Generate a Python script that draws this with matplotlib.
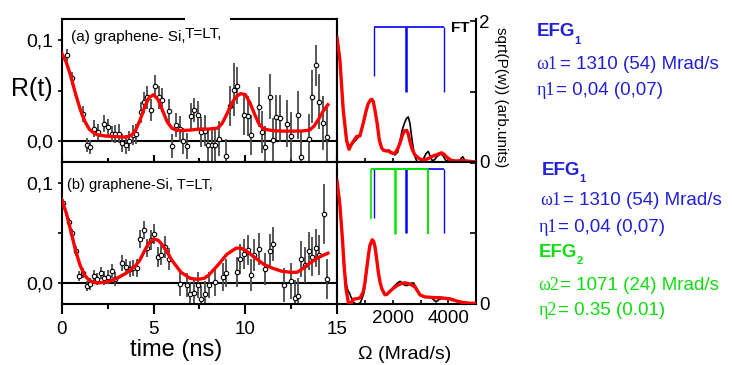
import matplotlib
matplotlib.use('Agg')
import matplotlib.pyplot as plt
from matplotlib.patches import Rectangle

plt.rcParams['font.family'] = ['Liberation Sans', 'DejaVu Sans']

# ---- (a) time spectrum: data points, errors and fit
t_a = [0.27, 0.58, 1.16, 1.39, 1.54, 1.77, 1.96, 2.32, 2.5, 2.72, 2.9, 3.11, 3.3, 3.48,
       3.66, 3.89, 4.07, 4.31, 4.49, 4.67, 4.89, 5.07, 5.29, 5.47, 5.85, 6.03, 6.25, 6.43,
       6.61, 6.83, 7.03, 7.21, 7.41, 7.61, 7.79, 7.97, 8.19, 8.37, 8.55, 8.97, 9.17, 9.37,
       9.55, 9.95, 10.14, 10.33, 10.72, 10.92, 11.08, 11.32, 11.5, 11.68, 11.9, 12.28, 12.5,
       12.86, 13.04, 13.46, 13.64, 13.86, 14.04, 14.24, 14.44]
r_a = [0.085, 0.062, 0.027, -0.004, -0.0056, 0.0125, 0.0092, 0.0175, 0.0142, 0.0069, 0.0069,
       0.0076, -0.0017, -0.0033, 0.0, 0.006, 0.0069, 0.0284, 0.0383, 0.0432, 0.0307, 0.0545,
       0.0432, 0.0406, 0.030, -0.0046, 0.0158, 0.0119, 0.0, -0.0046, 0.0248, 0.0307, 0.0257,
       0.009, 0.0105, -0.0035, -0.0035, -0.004, 0.0025, -0.0145, 0.035, 0.051, 0.055, 0.026,
       0.025, 0.006, 0.034, 0.009, -0.0055, 0.044, 0.0013, 0.0235, 0.0225, 0.0175, 0.005,
       0.026, -0.016, 0.0023, 0.044, 0.075, 0.039, 0.018, 0.0045]
e_a = [0.006, 0.0065, 0.008, 0.007, 0.007, 0.008, 0.008, 0.0087, 0.008, 0.008, 0.009,
       0.009, 0.009, 0.009, 0.01, 0.01, 0.01, 0.01, 0.01, 0.011, 0.011, 0.011, 0.011, 0.012,
       0.012, 0.012, 0.012, 0.013, 0.013, 0.013, 0.013, 0.012, 0.014, 0.015, 0.015, 0.016,
       0.016, 0.016, 0.017, 0.017, 0.02, 0.026, 0.018, 0.02, 0.02, 0.02, 0.02, 0.021, 0.021,
       0.022, 0.022, 0.022, 0.023, 0.023, 0.024, 0.024, 0.025, 0.025, 0.026, 0.02, 0.027,
       0.027, 0.028]
fit_t_a = [0, 0.25, 0.5, 0.75, 1.0, 1.25, 1.5, 1.75, 2.0, 2.5, 3.0, 3.5, 3.8, 4.0, 4.25, 4.5,
           4.75, 5.0, 5.25, 5.5, 5.75, 6.0, 6.25, 6.5, 7.0, 7.5, 8.0, 8.5, 8.75, 9.0, 9.25,
           9.5, 9.75, 10.0, 10.25, 10.5, 10.75, 11.0, 11.5, 12.0, 12.5, 13.0, 13.5, 13.75,
           14.0, 14.25, 14.5]
fit_r_a = [0.087, 0.078, 0.064, 0.047, 0.032, 0.020, 0.012, 0.008, 0.006, 0.005, 0.0045,
           0.004, 0.006, 0.010, 0.020, 0.033, 0.043, 0.046, 0.041, 0.030, 0.019, 0.013, 0.011,
           0.0105, 0.011, 0.012, 0.012, 0.013, 0.018, 0.027, 0.037, 0.044, 0.047, 0.046,
           0.038, 0.027, 0.017, 0.012, 0.0105, 0.010, 0.010, 0.010, 0.011, 0.015, 0.022,
           0.030, 0.036]

# ---- (b) time spectrum
t_b = [0.09, 0.40, 0.58, 0.78, 0.96, 1.16, 1.36, 1.54, 1.74, 1.93, 2.12, 2.32, 2.53, 2.72,
       2.93, 3.31, 3.49, 3.71, 3.89, 4.08, 4.29, 4.47, 4.67, 4.85, 5.03, 5.25, 5.43, 5.65,
       5.85, 6.43, 6.83, 7.01, 7.21, 7.41, 7.61, 7.79, 8.0, 8.37, 8.78, 8.97, 9.54, 9.73,
       9.92, 10.14, 10.33, 10.5, 10.72, 11.1, 11.32, 11.5, 12.1, 12.5, 12.68, 12.86, 13.04,
       13.26, 13.46, 13.66, 13.86, 14.04, 14.26, 14.46]
r_b = [0.080, 0.061, 0.050, 0.032, 0.0076, 0.0103, -0.003, -0.0005, 0.007, 0.0045, 0.0103,
       0.0054, 0.0064, 0.0126, 0.004, 0.020, 0.0166, 0.014, 0.0156, 0.0156, 0.0443, 0.053,
       0.035, 0.043, 0.049, 0.026, 0.028, 0.036, 0.024, -0.001, -0.002, -0.011, -0.0095,
       -0.002, -0.0155, -0.011, -0.0019, 0.0013, 0.0063, 0.010, 0.0115, 0.024, 0.029, 0.033,
       0.0086, 0.0284, 0.034, 0.014, 0.032, 0.039, -0.002, 0.0023, -0.015, -0.0125, 0.0245,
       0.0185, 0.032, 0.0267, 0.035, 0.028, 0.069, 0.0043]
e_b = [0.004, 0.004, 0.004, 0.005, 0.005, 0.005, 0.005, 0.006, 0.006, 0.006, 0.006, 0.007,
       0.007, 0.007, 0.007, 0.008, 0.008, 0.008, 0.008, 0.009, 0.009, 0.009, 0.009, 0.01,
       0.01, 0.01, 0.01, 0.011, 0.011, 0.012, 0.012, 0.012, 0.013, 0.013, 0.013, 0.013,
       0.013, 0.014, 0.014, 0.014, 0.015, 0.015, 0.015, 0.015, 0.016, 0.016, 0.016, 0.016,
       0.017, 0.017, 0.017, 0.018, 0.018, 0.018, 0.018, 0.018, 0.019, 0.019, 0.019, 0.02,
       0.03, 0.02]
fit_t_b = [0, 0.25, 0.5, 0.75, 1.0, 1.25, 1.5, 1.75, 2.0, 2.5, 3.0, 3.5, 4.0, 4.25, 4.5,
           4.75, 5.0, 5.25, 5.5, 5.75, 6.0, 6.5, 7.0, 7.4, 7.75, 8.0, 8.5, 9.0, 9.5, 9.75,
           10.0, 10.5, 11.0, 11.5, 12.0, 12.5, 12.8, 13.0, 13.5, 14.0, 14.5]
fit_r_b = [0.083, 0.070, 0.052, 0.033, 0.018, 0.008, 0.003, 0.001, 0.0005, 0.0015, 0.005,
           0.010, 0.017, 0.023, 0.032, 0.040, 0.044, 0.043, 0.038, 0.031, 0.023, 0.011, 0.005,
           0.004, 0.005, 0.008, 0.018, 0.029, 0.035, 0.035, 0.033, 0.026, 0.019, 0.015, 0.012,
           0.011, 0.011, 0.013, 0.020, 0.026, 0.030]

# ---- Fourier transforms (Mrad/s, arb. units)
w_fa_red = [0, 100, 220, 340, 430, 500, 580, 700, 820, 940, 1040, 1120, 1200, 1250, 1300,
            1360, 1440, 1520, 1600, 1660, 1750, 1840, 1950, 2080, 2180, 2260, 2350, 2420,
            2500, 2560, 2620, 2700, 2800, 2980, 3150, 3340, 3480, 3580, 3680, 3760, 3850,
            3940, 4120, 4300, 4540, 4750, 5000]
p_fa_red = [1.76, 1.45, 0.74, 0.31, 0.18, 0.24, 0.29, 0.36, 0.37, 0.55, 0.72, 0.83, 0.88,
            0.89, 0.86, 0.74, 0.55, 0.31, 0.2, 0.17, 0.16, 0.156, 0.13, 0.12, 0.19, 0.265,
            0.38, 0.44, 0.45, 0.40, 0.29, 0.18, 0.10, 0.04, 0.03, 0.06, 0.09, 0.10, 0.12,
            0.13, 0.11, 0.07, 0.02, 0.015, 0.02, 0.01, 0.0]
w_fa_blk = [0, 100, 220, 340, 410, 500, 600, 700, 820, 940, 1040, 1120, 1200, 1250, 1300,
            1360, 1440, 1520, 1600, 1660, 1760, 1860, 1960, 2080, 2180, 2260, 2340, 2420,
            2500, 2560, 2620, 2700, 2780, 2880, 3000, 3100, 3200, 3280, 3350, 3420, 3500,
            3600, 3700, 3800, 3880, 3960, 4100, 4300, 4420, 4520, 4600, 4750, 5000]
p_fa_blk = [1.76, 1.45, 0.74, 0.28, 0.21, 0.24, 0.28, 0.32, 0.38, 0.55, 0.72, 0.83, 0.88,
            0.88, 0.85, 0.74, 0.55, 0.31, 0.2, 0.16, 0.15, 0.17, 0.14, 0.1, 0.14, 0.3, 0.45,
            0.55, 0.62, 0.64, 0.55, 0.3, 0.1, 0.0, 0.0, 0.04, 0.12, 0.15, 0.08, 0.02, 0.03,
            0.08, 0.11, 0.1, 0.04, 0.0, 0.0, 0.0, 0.03, 0.075, 0.02, 0.0, 0.0]
w_fb_red = [0, 100, 190, 250, 320, 400, 490, 580, 700, 820, 940, 1000, 1065, 1130, 1180,
            1266, 1320, 1363, 1420, 1482, 1550, 1604, 1720, 1800, 1900, 2080, 2200, 2320,
            2440, 2560, 2680, 2800, 2900, 2980, 3160, 3340, 3520, 3700, 3880, 4060, 4300,
            4540, 4800, 5000]
p_fb_red = [1.74, 1.40, 0.93, 0.55, 0.22, 0.03, 0.0, 0.067, 0.075, 0.085, 0.17, 0.3, 0.50,
            0.7, 0.83, 0.91, 0.88, 0.81, 0.65, 0.45, 0.3, 0.22, 0.13, 0.14, 0.18, 0.24, 0.27,
            0.29, 0.30, 0.29, 0.27, 0.24, 0.18, 0.13, 0.10, 0.095, 0.09, 0.09, 0.08, 0.07,
            0.043, 0.02, 0.01, 0.01]
w_fb_blk = [0, 100, 190, 250, 320, 380, 450, 520, 600, 680, 760, 840, 900, 960, 1000, 1065,
            1130, 1180, 1266, 1320, 1363, 1420, 1482, 1550, 1604, 1720, 1800, 1900, 2000,
            2100, 2180, 2263, 2350, 2420, 2480, 2560, 2640, 2741, 2840, 2921, 3000, 3150,
            3300, 3420, 3500, 3558, 3650, 3780, 3940, 4060, 4180, 4300, 4400, 4600, 5000]
p_fb_blk = [1.74, 1.40, 0.93, 0.6, 0.3, 0.2, 0.15, 0.08, 0.02, 0.0, 0.0, 0.02, 0.08, 0.15,
            0.25, 0.48, 0.7, 0.83, 0.9, 0.88, 0.81, 0.65, 0.45, 0.3, 0.22, 0.13, 0.13, 0.18,
            0.23, 0.27, 0.3, 0.32, 0.3, 0.27, 0.26, 0.27, 0.29, 0.30, 0.24, 0.17, 0.12, 0.1,
            0.1, 0.08, 0.05, 0.03, 0.06, 0.08, 0.09, 0.08, 0.07, 0.04, 0.02, 0.01, 0.01]

# EFG frequency sticks
efg1_w = [1310, 2490, 3850]
efg1_h = [1.22, 1.0, 1.0]
efg2_w = [1210, 2085, 3280]
efg2_h = [1.21, 0.99, 0.99]
stick_top = 1.92

BLUE = '#0000ff'
GREEN = '#00e600'
TBLUE = '#2020d8'
TGREEN = '#10dd10'

W, H = 732, 365
fig = plt.figure(figsize=(W / 100, H / 100), dpi=100)


def fx(x):
    return x / W


def fy(y):
    return 1 - y / H


ax_a = fig.add_axes([fx(61.7), fy(162), (337.1 - 61.7) / W, 143 / H])
ax_b = fig.add_axes([fx(61.7), fy(304), (337.1 - 61.7) / W, 142 / H])
ax_fa = fig.add_axes([fx(337.1), fy(162), 139 / W, 143 / H])
ax_fb = fig.add_axes([fx(337.1), fy(304), 139 / W, 142 / H])

for ax, t, r, e, ft, fr in [(ax_a, t_a, r_a, e_a, fit_t_a, fit_r_a),
                            (ax_b, t_b, r_b, e_b, fit_t_b, fit_r_b)]:
    ax.errorbar(t, r, yerr=e, fmt='o', ms=3.2, mfc='white', mec='black', mew=0.8,
                ecolor='#4a4a4a', elinewidth=1.3, capsize=0, zorder=2)
    ax.plot(ft, fr, color='red', lw=2.4, zorder=3)
    ax.axhline(0, color='black', lw=1.5, zorder=1)
    ax.set_xlim(0, 15)
    ax.set_ylim(-0.0205, 0.1207)
    ax.set_yticks([0, 0.05, 0.1])
    ax.set_yticklabels(['0,0', '', '0,1'])
    ax.tick_params(axis='y', which='both', left=True, right=True, direction='out',
                   length=3, width=1.2, labelsize=14, pad=3)
    ax.set_xticks([0, 5, 10, 15])
    ax.set_xticks([2.5, 7.5, 12.5], minor=True)
    for s in ax.spines.values():
        s.set_linewidth(1.5)

ax_a.tick_params(axis='x', which='major', direction='inout', length=10, width=1.5,
                 labelbottom=False)
ax_a.tick_params(axis='x', which='minor', direction='inout', length=6, width=1.5)
ax_b.tick_params(axis='x', which='major', direction='out', length=7, width=1.5,
                 labelsize=13.5, pad=5)
ax_b.tick_params(axis='x', which='minor', direction='out', length=3.5, width=1.5)

for ax, wr, pr, wb, pb, top in [(ax_fa, w_fa_red, p_fa_red, w_fa_blk, p_fa_blk, 2.03),
                                (ax_fb, w_fb_red, p_fb_red, w_fb_blk, p_fb_blk, 2.01)]:
    ax.plot(wb, pb, color='black', lw=1.2, zorder=2)
    ax.plot(wr, pr, color='red', lw=2.4, zorder=3)
    ax.set_xlim(0, 5000)
    ax.set_ylim(0, top)
    ax.yaxis.tick_right()
    ax.set_yticks([0, 1, 2])
    ax.tick_params(axis='y', direction='in', length=4, width=1.2, labelsize=13.5, pad=2)
    ax.set_xticks([2000, 4000])
    ax.set_xticks([1000, 3000], minor=True)
    ax.tick_params(axis='x', which='both', direction='in', length=3, width=1.2,
                   labelsize=13.5, pad=4)
    for s in ax.spines.values():
        s.set_linewidth(1.5)

ax_fa.spines['top'].set_visible(False)
ax_fa.set_yticklabels(['0', '', '2'])
ax_fa.tick_params(axis='x', labelbottom=False)
ax_fb.set_yticklabels(['0', '', ''])

# EFG sticks
ax_fa.vlines(efg1_w, efg1_h, stick_top, colors=BLUE, lw=[1.0, 1.8, 1.0])
ax_fa.hlines(stick_top, efg1_w[0], efg1_w[-1], colors=BLUE, lw=1.2)
ax_fb.vlines(efg1_w, efg1_h, stick_top - 0.01, colors=BLUE, lw=[1.0, 1.8, 1.0])
ax_fb.hlines(stick_top - 0.01, efg1_w[0], efg1_w[-1], colors=BLUE, lw=1.2)
ax_fb.vlines(efg2_w, efg2_h, stick_top - 0.01, colors=GREEN, lw=[1.2, 1.8, 1.4], zorder=3)
ax_fb.hlines(stick_top - 0.01, efg2_w[0], efg2_w[-1], colors=GREEN, lw=1.4, zorder=3)

# texts on the panels
fig.text(fx(71), fy(40.5), '(a) graphene- Si,', fontsize=11, va='baseline')
fig.text(fx(185), fy(38.3), 'T=LT,', fontsize=11, va='baseline', zorder=6)
fig.add_artist(Rectangle((fx(185), fy(22)), 45 / W, 6 / H, transform=fig.transFigure,
                         facecolor='white', edgecolor='none', zorder=5))
fig.text(fx(67), fy(188.5), '(b) graphene-Si, T=LT,', fontsize=10.5, va='baseline')
fig.text(fx(460), fy(28.5), 'FT', fontsize=11, fontweight='bold', ha='center', va='center')

fig.text(fx(32), fy(89), 'R(t)', fontsize=18, ha='center', va='center')
fig.text(fx(176), fy(356), 'time (ns)', fontsize=17, ha='center', va='baseline')
fig.text(fx(405), fy(359), '\u03a9 (Mrad/s)', fontsize=14, ha='center', va='baseline')
fig.text(fx(501), fy(97), 'sqrt(P(w)) (arb.units)', fontsize=11, rotation=270,
         ha='center', va='center')

# EFG parameters
SERIF = ['Liberation Serif', 'DejaVu Serif']


def efg_title(x, y, n, color):
    fig.text(fx(x), fy(y), 'EFG', fontsize=13.5, fontweight='bold', color=color,
             va='baseline')
    fig.text(fx(x + 38), fy(y + 7.5), n, fontsize=8, fontweight='bold', color=color,
             va='baseline')


def param(x, xeq, y, sym, rest, color):
    fig.text(fx(x), fy(y), sym, fontsize=13, family=SERIF, color=color, va='baseline')
    fig.text(fx(xeq), fy(y), rest, fontsize=13.5, color=color, va='baseline')


efg_title(536.7, 36, '1', TBLUE)
param(536.7, 560, 69, '\u03c91', '= 1310 (54) Mrad/s', TBLUE)
param(536.7, 556, 95, '\u03b71', '= 0,04 (0,07)', TBLUE)

efg_title(541.7, 175, '1', TBLUE)
param(540.7, 563.3, 205, '\u03c91', '= 1310 (54) Mrad/s', TBLUE)
param(538.3, 558, 232, '\u03b71', '= 0,04 (0,07)', TBLUE)
efg_title(538.3, 257, '2', TGREEN)
param(538.3, 560, 290, '\u03c92', '= 1071 (24) Mrad/s', TGREEN)
param(538.3, 558.3, 315, '\u03b72', '= 0.35 (0.01)', TGREEN)

fig.savefig('out.png', dpi=100)
